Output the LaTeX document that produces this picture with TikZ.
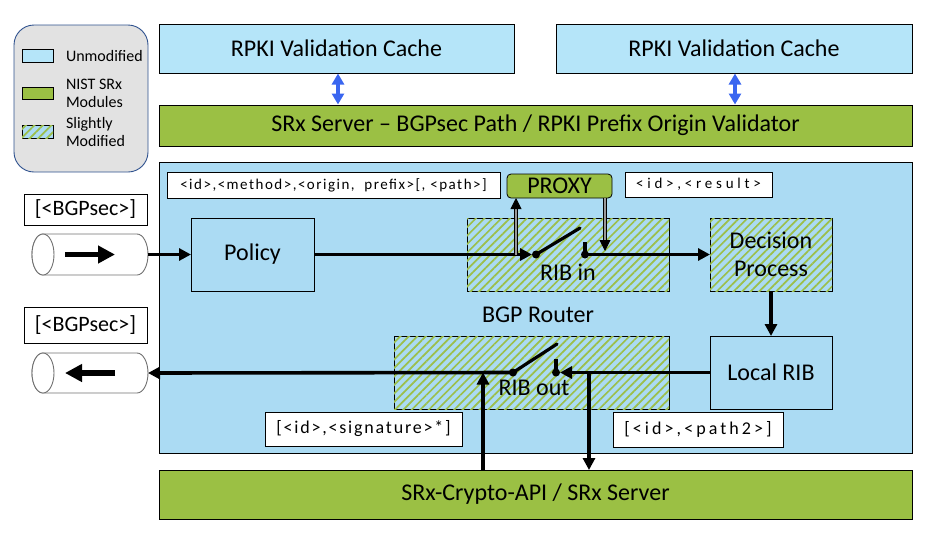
\documentclass[tikz,border=0pt]{standalone}
\usepackage{fontspec}
\setmainfont{Carlito}
\newfontfamily\carlM[LetterSpace=10]{Carlito}
\newfontfamily\carlR[LetterSpace=25]{Carlito}
\newfontfamily\carlA[LetterSpace=10]{Carlito}
\newfontfamily\carlB[LetterSpace=17]{Carlito}
\usetikzlibrary{arrows.meta,patterns.meta}
\definecolor{cacheblue}{HTML}{B5E5F9}
\definecolor{routerblue}{HTML}{ABDBF3}
\definecolor{srxgreen}{HTML}{9BC044}
\definecolor{hatchgreen}{HTML}{9CBF4A}
\definecolor{legendgray}{HTML}{E2E2E2}
\definecolor{legendborder}{HTML}{2F528F}
\definecolor{arrowblue}{HTML}{3A66F0}
\definecolor{cylgray}{HTML}{707070}
\begin{document}
\begin{tikzpicture}[x=1pt,y=-1pt,
  every node/.style={inner sep=0pt, outer sep=0pt},
  box/.style={draw=black, line width=0.8pt},
  big/.style={font=\fontsize{24}{28}\selectfont},
  hatch/.style={fill=routerblue, postaction={pattern={Lines[angle=45,distance=6pt,line width=1.7pt]}, pattern color=hatchgreen}},
  lab/.style={box, fill=white},
  arr/.style={line width=3.6pt, -{Triangle[length=12pt,width=12pt]}},
  dbl/.style={line width=0.9pt, double=gray!80, double distance=2.4pt, -{Triangle[length=11pt,width=11pt]}},
  lever/.style={line width=3.2pt, line cap=round},
  dotn/.style={circle, fill=black, minimum size=8pt},
  cyl/.style={draw=cylgray, fill=white, line width=0.9pt},
  bluearr/.style={draw=arrowblue, line width=3.6pt, {Triangle[length=11pt,width=12pt]}-{Triangle[length=11pt,width=12pt]}, shorten <=0.5pt, shorten >=0.5pt},
  legtext/.style={font=\fontsize{16}{18}\selectfont, align=left, anchor=west}
]
\useasboundingbox (0,0) rectangle (942,550);

% legend
\node[draw=legendborder, fill=legendgray, rounded corners=20pt, line width=0.9pt, minimum width=134pt, minimum height=147pt] (legend) at (81,98.5) {};
\node[box, fill=cacheblue, minimum width=31pt, minimum height=13pt] (swa) at (37.5,55.5) {};
\node[box, fill=srxgreen, minimum width=31pt, minimum height=12pt] (swb) at (37.5,93) {};
\node[box, hatch, minimum width=31pt, minimum height=13pt] (swc) at (37.5,131.5) {};
\node[legtext] (lta) at (66,56) {Unmodified};
\node[legtext] (ltb) at (66,93) {NIST SRx\\Modules};
\node[legtext] (ltc) at (66,132) {Slightly\\Modified};

% top
\node[box, fill=cacheblue, minimum width=355pt, minimum height=49pt, big] (cache1) at (336.5,48.5) {RPKI Validation Cache};
\node[box, fill=cacheblue, minimum width=356pt, minimum height=49pt, big] (cache2) at (734,48.5) {RPKI Validation Cache};
\node[box, fill=srxgreen, minimum width=753pt, minimum height=41pt, big] (srx) at (535.5,125.5) {SRx Server -- BGPsec Path / RPKI Prefix Origin Validator};
\draw[bluearr] (cache1.south -| 338,0) -- (srx.north -| 338,0);
\draw[bluearr] (cache2.south -| 735,0) -- (srx.north -| 735,0);

% router
\node[box, fill=routerblue, minimum width=753pt, minimum height=291pt] (router) at (535.5,307.5) {};
\node[big] (routerlab) at (538,315) {BGP Router};
\node[box, fill=srxgreen, minimum width=753pt, minimum height=49pt, big] (crypto) at (535.5,494.5) {SRx-Crypto-API / SRx Server};

% labels
\node[lab, minimum width=333pt, minimum height=26pt, font=\carlM\fontsize{15}{17}\selectfont] (lab1) at (333.5,185) {<id>,<method>,<origin,\ \ prefix>[, <path>]};
\node[lab, minimum width=147pt, minimum height=25pt, font=\carlR\fontsize{15}{17}\selectfont] (lab2) at (698.5,184.5) {<id>,<result>};
\node[lab, minimum width=197pt, minimum height=34pt, font=\carlA\fontsize{18}{20}\selectfont] (lab3) at (363.5,429) {[<id>,<signature>*]};
\node[lab, minimum width=170pt, minimum height=35pt, font=\carlB\fontsize{18}{20}\selectfont] (lab4) at (698,429.5) {[<id>,<path2>]};
\node[lab, minimum width=123pt, minimum height=31pt, font=\fontsize{22}{26}\selectfont] (bgp1) at (85.5,209.5) {[<BGPsec>]};
\node[lab, minimum width=123pt, minimum height=36pt, font=\fontsize{22}{26}\selectfont] (bgp2) at (85.5,325) {[<BGPsec>]};

% boxes inside router
\node[box, fill=routerblue, minimum width=123pt, minimum height=73pt, big] (policy) at (252.5,254.5) {Policy};
\node[box, hatch, minimum width=202pt, minimum height=73pt] (ribin) at (568,254.5) {};
\node[big] (ribinlab) at (568,272) {RIB in};
\node[box, hatch, minimum width=122pt, minimum height=73pt, big, align=center] (decision) at (771,254.5) {Decision\\Process};
\node[box, fill=routerblue, minimum width=122pt, minimum height=73pt, big] (localrib) at (771,372.5) {Local RIB};
\node[box, hatch, minimum width=275pt, minimum height=73pt] (ribout) at (531.5,372.5) {};
\node[big] (riboutlab) at (534,388) {RIB out};
\node[box, fill=srxgreen, rounded corners=4pt, minimum width=105pt, minimum height=24pt, big] (proxy) at (559.5,186) {PROXY};

% cylinders
\node[minimum width=116pt, minimum height=41pt] (cylin) at (90,254.5) {};
\draw[cyl] (43,234) -- (137,234) arc[start angle=-90,end angle=90,x radius=11,y radius=20.5] -- (43,275) arc[start angle=90,end angle=270,x radius=11,y radius=20.5] -- cycle;
\draw[cyl] (43,254.5) ellipse[x radius=11,y radius=20.5];
\draw[line width=5.5pt, -{Triangle[length=17pt,width=17pt]}] (65,254.5) -- (115,254.5);

\node[minimum width=116pt, minimum height=40pt] (cylout) at (90,373) {};
\draw[cyl] (43,353) -- (137,353) arc[start angle=-90,end angle=90,x radius=11,y radius=20] -- (43,393) arc[start angle=90,end angle=270,x radius=11,y radius=20] -- cycle;
\draw[cyl] (43,373) ellipse[x radius=11,y radius=20];
\draw[line width=5.5pt, -{Triangle[length=17pt,width=17pt]}] (115,373) -- (65,373);

% switch RIB in
\node[dotn] (s1a) at (536,254.5) {};
\node[dotn] (s1b) at (585,254.5) {};
\coordinate (s1lev) at (580,228);
\coordinate (s1tick) at (585,242);
\draw[lever] (s1a.center) -- (s1lev);
\draw[line width=3.2pt] (s1b.center) -- (s1tick);
\draw[arr] (cylin.east) -- (policy.west);
\draw[arr] (policy.east) -- (s1a.west);
\draw[arr] (s1b.center) -- (decision.west);
\coordinate (pu) at (516,254.5);
\coordinate (pd) at (605,251);
\draw[dbl] (pu) -- (pu |- proxy.south);
\draw[dbl] (pd |- proxy.south) -- (pd);

% decision to local rib
\draw[arr] (decision.south) -- (localrib.north);

% switch RIB out
\node[dotn] (s2a) at (513,372.5) {};
\node[dotn] (s2b) at (556,372.5) {};
\coordinate (s2lev) at (557,344);
\coordinate (s2tick) at (556,359);
\draw[lever] (s2a.center) -- (s2lev);
\draw[line width=3.2pt] (s2b.center) -- (s2tick);
\draw[arr] (localrib.west) -- (s2b.east);
\draw[arr] (s2a.center) -- (cylout.east);
\coordinate (cu) at (483,372.5);
\coordinate (cd) at (589,372.5);
\draw[arr] (cu |- crypto.north) -- (cu);
\draw[arr] (cd) -- (cd |- crypto.north);
\end{tikzpicture}
\end{document}
